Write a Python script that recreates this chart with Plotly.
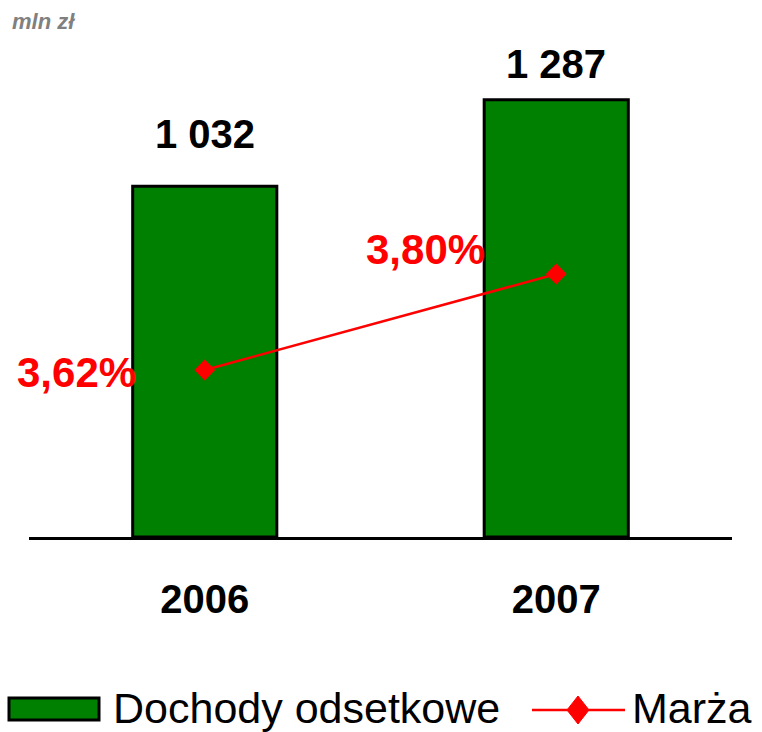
import plotly.graph_objects as go

years = ["2006", "2007"]
dochody = [1032, 1287]
marza = [3.62, 3.80]
unit_label = "mln zł"
series_names = ["Dochody odsetkowe", "Marża"]

W, H = 762, 732
ML, MR, MT, MB = 29, 30, 30, 195
PW, PH = W - ML - MR, H - MT - MB

def px(x):
    return (x - ML) / PW

def py(y):
    return (H - MB - y) / PH

FONT = "Liberation Sans, Arial, sans-serif"
GREEN = "#008000"
RED = "#FF0000"

fig = go.Figure()
fig.add_trace(go.Bar(
    x=years, y=dochody, name=series_names[0],
    marker=dict(color=GREEN, line=dict(color="black", width=3)),
    width=0.41, showlegend=False, hoverinfo="skip"))
fig.add_trace(go.Scatter(
    x=years, y=marza, name=series_names[1], yaxis="y2", mode="lines+markers",
    line=dict(color=RED, width=2.5),
    marker=dict(symbol="diamond", size=16, color=RED),
    showlegend=False, cliponaxis=False))

def fmt_int(v):
    return f"{v:,}".replace(",", " ")

def fmt_pct(v):
    return f"{v:.2f}".replace(".", ",") + "%"

ann = []
bar_shifts = [52, 36]
for i, (v, s) in enumerate(zip(dochody, bar_shifts)):
    ann.append(dict(x=i, y=v, xref="x", yref="y", text=fmt_int(v), showarrow=False,
                    yanchor="middle", yshift=s,
                    font=dict(family=FONT, size=40, color="black", weight="bold")))
pct_shifts = [(-67, -2), (-69, 25)]
for i, (v, (sx, sy)) in enumerate(zip(marza, pct_shifts)):
    ann.append(dict(x=i, y=v, xref="x", yref="y2", text=fmt_pct(v), showarrow=False,
                    xanchor="right", yanchor="middle", xshift=sx, yshift=sy,
                    font=dict(family=FONT, size=42, color=RED, weight="bold")))
ann.append(dict(x=px(10), y=py(22), xref="paper", yref="paper", text=unit_label,
                showarrow=False, xanchor="left", yanchor="middle",
                font=dict(family=FONT, size=22, color="#808080", weight="bold", style="italic")))
ann.append(dict(x=px(111), y=py(708), xref="paper", yref="paper", text=series_names[0],
                showarrow=False, xanchor="left", yanchor="middle",
                font=dict(family=FONT, size=43, color="black")))
ann.append(dict(x=px(630), y=py(708), xref="paper", yref="paper", text=series_names[1],
                showarrow=False, xanchor="left", yanchor="middle",
                font=dict(family=FONT, size=43, color="black")))

shapes = [
    dict(type="rect", xref="paper", yref="paper", x0=px(9), x1=px(99), y0=py(720), y1=py(698),
         fillcolor=GREEN, line=dict(color="black", width=3)),
    dict(type="line", xref="paper", yref="paper", x0=px(532), x1=px(625), y0=py(710), y1=py(710),
         line=dict(color=RED, width=2.5)),
    dict(type="path", xref="paper", yref="paper",
         path=f"M {px(567)},{py(710)} L {px(578)},{py(696)} L {px(589)},{py(710)} L {px(578)},{py(724)} Z",
         fillcolor=RED, line=dict(color=RED, width=1)),
]

fig.update_layout(
    width=W, height=H, margin=dict(l=ML, r=MR, t=MT, b=MB),
    plot_bgcolor="white", paper_bgcolor="white",
    font=dict(family=FONT),
    xaxis=dict(type="category", showline=True, linecolor="black", linewidth=3, showgrid=False,
               zeroline=False, ticks="", ticklabelstandoff=25,
               tickfont=dict(family=FONT, size=40, color="black", weight="bold"),
               range=[-0.5, 1.5], fixedrange=True),
    yaxis=dict(range=[0, 1492], visible=False, showgrid=False, zeroline=False),
    yaxis2=dict(range=[3.3069, 4.2575], overlaying="y", visible=False, showgrid=False, zeroline=False),
    annotations=ann, shapes=shapes, showlegend=False,
)

fig.write_html("out.html", config={"displayModeBar": False},
               post_script="document.body.style.margin='0';document.body.style.overflow='hidden';")
